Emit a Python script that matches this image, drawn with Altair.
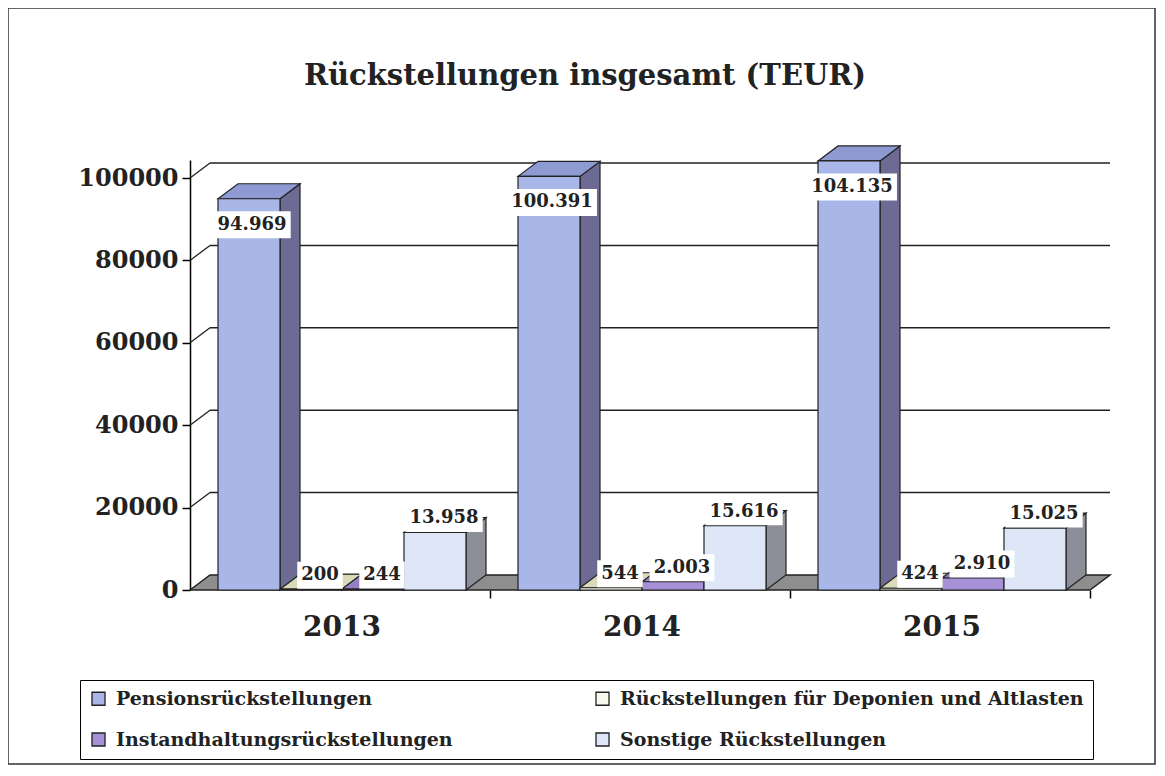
import altair as alt
import pandas as pd

# ---------------- data ----------------
YEARS = ["2013", "2014", "2015"]
SERIES = [
    "Pensionsrückstellungen",
    "Rückstellungen für Deponien und Altlasten",
    "Instandhaltungsrückstellungen",
    "Sonstige Rückstellungen",
]
PENSION = [94969, 100391, 104135]
DEPONIEN = [200, 544, 424]
INSTAND = [244, 2003, 2910]
SONSTIGE = [13958, 15616, 15025]
Y_TICKS = [0, 20000, 40000, 60000, 80000, 100000]
TITLE = "Rückstellungen insgesamt (TEUR)"

# ---------------- style ----------------
FRONT = ["#A9B7E8", "#F7F7EE", "#A690D6", "#DDE7F8"]
TOP = ["#8E9BD2", "#DADABA", "#9580C4", "#C4CCDD"]
SIDE = ["#6D6A93", "#B4B49A", "#6F6096", "#8D8F98"]
FONT = "DejaVu Serif"

W_PX, H_PX = 920, 430          # plot area
GROUP_PX = 300                 # pixels per year group
PX_Y = 4.12 / 1000             # pixels per TEUR
X_MAX = W_PX / GROUP_PX
Y_MAX = H_PX / PX_Y
DX = 20 / GROUP_PX             # 3D depth (x)
DY = 15 / PX_Y                 # 3D depth (y)
LEFT = 28 / GROUP_PX
BW = 62 / GROUP_PX


def px_x(p):
    return p / GROUP_PX


def px_y(p):
    return p / PX_Y


values = [PENSION, DEPONIEN, INSTAND, SONSTIGE]
front_rows, side_rows, top_rows, label_rows = [], [], [], []
for g, year in enumerate(YEARS):
    for s, name in enumerate(SERIES):
        v = values[s][g]
        xl = g + LEFT + s * BW
        xr = xl + BW
        bid = f"{g}-{s}"
        front_rows.append(dict(id=bid, series=name, xl=xl, xr=xr, v=v, zero=0))
        side_rows += [
            dict(id=bid, c=SIDE[s], x=xr, lo=0, hi=v),
            dict(id=bid, c=SIDE[s], x=xr + DX, lo=DY, hi=v + DY),
        ]
        top_rows += [
            dict(id=bid, c=TOP[s], x=xl, lo=v, hi=v),
            dict(id=bid, c=TOP[s], x=xl + DX, lo=v, hi=v + DY),
            dict(id=bid, c=TOP[s], x=xr, lo=v, hi=v + DY),
            dict(id=bid, c=TOP[s], x=xr + DX, lo=v + DY, hi=v + DY),
        ]
        txt = f"{v:,}".replace(",", ".")
        xc = (xl + xr) / 2
        if s == 0:
            cx, cy = xc + px_x(3), v - px_y(26)
        else:
            cx, cy = xc + px_x(9), v + px_y(14)
        tw = sum(12.5 if ch.isdigit() else 6.9 for ch in txt) + 8
        label_rows.append(dict(
            t=txt, cx=cx, cy=cy,
            bx1=cx - px_x(tw / 2), bx2=cx + px_x(tw / 2),
            by1=cy - px_y(13.5), by2=cy + px_y(13.5),
        ))

front_df = pd.DataFrame(front_rows)
side_df = pd.DataFrame(side_rows)
top_df = pd.DataFrame(top_rows)
label_df = pd.DataFrame(label_rows)

grid_df = pd.DataFrame(dict(
    x=[DX] * (len(Y_TICKS) - 1),
    x2=[len(YEARS) + DX] * (len(Y_TICKS) - 1),
    y=[t + DY for t in Y_TICKS[1:]],
    dx1=[0] * (len(Y_TICKS) - 1),
    dy1=Y_TICKS[1:],
))
floor_df = pd.DataFrame(dict(
    x=[0, DX, len(YEARS), len(YEARS) + DX],
    lo=[0, 0, 0, DY],
    hi=[0, DY, DY, DY],
))
year_df = pd.DataFrame(dict(year=YEARS, x=[g + LEFT + 2 * BW for g in range(len(YEARS))], y=[0] * len(YEARS)))
one = pd.DataFrame(dict(t=[TITLE]))

xs = alt.Scale(domain=[0, X_MAX], nice=False, zero=False)
ys = alt.Scale(domain=[0, Y_MAX], nice=False, zero=True)
X_AXIS = alt.Axis(values=[1, 2, 3], labels=False, domain=False, ticks=True, tickSize=8,
                  tickColor="black", tickWidth=1.5, grid=False, title=None)
Y_AXIS = alt.Axis(values=Y_TICKS, format="d", domain=True, domainColor="black", domainWidth=1.5,
                  ticks=True, tickSize=8, tickColor="black", tickWidth=1.5, grid=False, title=None,
                  labelFont=FONT, labelFontWeight="bold", labelFontSize=24, labelColor="#222222",
                  labelPadding=4)


def X(field):
    return alt.X(field, scale=xs, axis=X_AXIS)


def Y(field, **kw):
    return alt.Y(field, scale=ys, axis=Y_AXIS, **kw)


# back-wall grid lines and their diagonal connectors
grid = alt.Chart(grid_df).mark_rule(color="#222222", strokeWidth=1.5).encode(
    x=X("x:Q"), x2="x2:Q", y=Y("y:Q"),
)
diag = alt.Chart(grid_df).mark_rule(color="#222222", strokeWidth=1.3).encode(
    x=X("dx1:Q"), x2="x:Q", y=Y("dy1:Q"), y2="y:Q",
)
floor = alt.Chart(floor_df).mark_area(color="#8E8E8E", stroke="#222222", strokeWidth=1.5,
                                      orient="vertical").encode(
    x=X("x:Q"), y=Y("hi:Q", stack=None), y2="lo:Q",
)
sides = alt.Chart(side_df).mark_area(stroke="#222222", strokeWidth=1.2, orient="vertical").encode(
    x=X("x:Q"), y=Y("hi:Q", stack=None), y2="lo:Q",
    detail="id:N",
    fill=alt.Fill("c:N", scale=None),
)
tops = alt.Chart(top_df).mark_area(stroke="#222222", strokeWidth=1.2, orient="vertical").encode(
    x=X("x:Q"), y=Y("hi:Q", stack=None), y2="lo:Q",
    detail="id:N",
    fill=alt.Fill("c:N", scale=None),
)
fronts = alt.Chart(front_df).mark_rect(stroke="#222222", strokeWidth=1.2).encode(
    x=X("xl:Q"), x2="xr:Q",
    y=Y("v:Q"), y2="zero:Q",
    fill=alt.Fill("series:N", scale=alt.Scale(domain=SERIES, range=FRONT),
                  legend=alt.Legend(
                      orient="none", legendX=-110, legendY=520, columns=2, direction="horizontal",
                      columnPadding=140, rowPadding=21, padding=9,
                      strokeColor="black", title=None,
                      symbolType="square", symbolSize=170, symbolStrokeColor="#222222",
                      symbolStrokeWidth=1.3, labelOffset=8,
                      labelFont=FONT, labelFontWeight="bold", labelFontSize=19,
                      labelColor="#222222", labelLimit=700,
                  )),
)
boxes = alt.Chart(label_df).mark_rect(color="white").encode(
    x=X("bx1:Q"), x2="bx2:Q", y=Y("by1:Q"), y2="by2:Q",
)
labels = alt.Chart(label_df).mark_text(font=FONT, fontWeight="bold", fontSize=18,
                                       color="#222222", baseline="middle", align="center").encode(
    x=X("cx:Q"), y=Y("cy:Q"), text="t:N",
)
years = alt.Chart(year_df).mark_text(font=FONT, fontWeight="bold", fontSize=28, color="#222222",
                                     baseline="middle", align="center", dy=38).encode(
    x=X("x:Q"), y=Y("y:Q"), text="year:N",
)
title = alt.Chart(one).mark_text(font=FONT, fontWeight="bold", fontSize=29, color="#222222",
                                 baseline="middle", align="center").encode(
    x=alt.value(395), y=alt.value(-84), text="t:N",
)
frame = alt.Chart(one).mark_rect(fillOpacity=0, stroke="#333333", strokeWidth=1.5).encode(
    x=alt.value(-182), x2=alt.value(965), y=alt.value(-152), y2=alt.value(604),
)

chart = alt.layer(
    frame, grid, diag, floor, sides, tops, fronts, boxes, labels, years, title
).resolve_scale(fill="independent").properties(
    width=W_PX, height=H_PX,
    autosize=alt.AutoSizeParams(type="none"),
    padding={"left": 182, "top": 152, "right": 46, "bottom": 176},
    background="white",
).configure_view(stroke=None)

chart.save("out.html", embed_options={"renderer": "svg", "actions": False})
